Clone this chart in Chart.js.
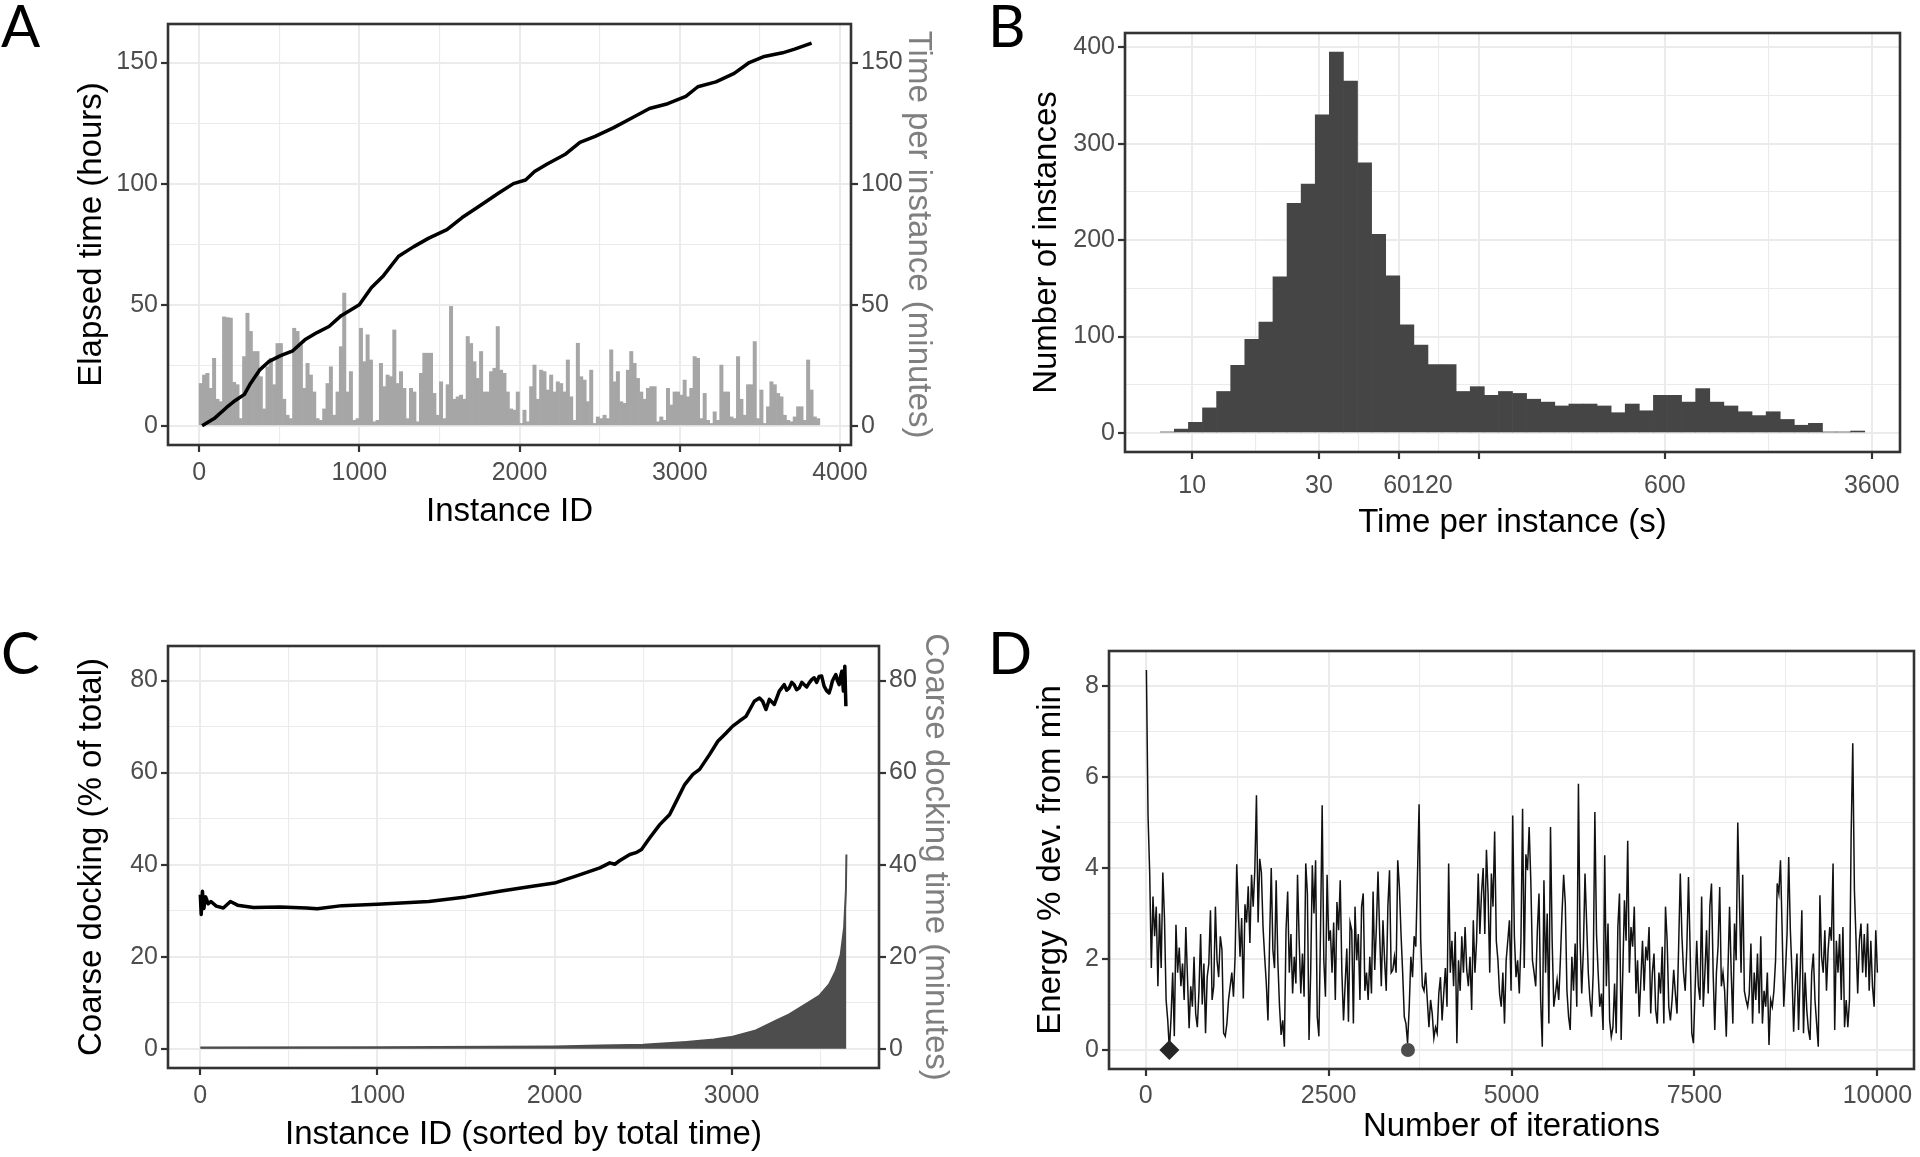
<!DOCTYPE html>
<html>
<head>
<meta charset="utf-8">
<script src="https://cdn.jsdelivr.net/npm/chart.js@4.4.1/dist/chart.umd.min.js"></script>
<style>
  html, body { margin: 0; padding: 0; background: #fff; overflow: hidden; }
  body { width: 1920px; height: 1157px; position: relative; }
  canvas { position: absolute; }
  .tag { position: absolute; font-family: Lato, 'Open Sans', sans-serif; font-size: 58px; line-height: 58px; color: #000; }
</style>
</head>
<body>
<div class="tag" style="left:1px;top:-4px">A</div>
<div class="tag" style="left:988px;top:-4px">B</div>
<div class="tag" style="left:1px;top:623px">C</div>
<div class="tag" style="left:988px;top:623px">D</div>

<canvas id="grafA" width="868" height="528" style="left:70px;top:4px"></canvas>
<canvas id="grafB" width="889" height="530" style="left:1025px;top:13px"></canvas>
<canvas id="grafC" width="885" height="529" style="left:70px;top:626px"></canvas>
<canvas id="grafD" width="895" height="516" style="left:1029px;top:631px"></canvas>

<script>
// ---- A: elapsed time and time per instance
const instanceA = [19, 94, 170, 226, 283, 321, 377, 434, 509, 585, 660, 736, 811, 887, 1000, 1075, 1151, 1245, 1340, 1434,
  1547, 1642, 1755, 1868, 1962, 2038, 2094, 2170, 2283, 2377, 2472, 2585, 2698, 2811, 2925, 3038, 3113, 3226, 3340, 3434,
  3528, 3642, 3717, 3823];
const elapsedHours = [0, 3, 7.5, 10.5, 13, 17.5, 23, 26.5, 29, 31, 35.5, 38.5, 41, 45.5, 50, 57, 62, 70, 74, 77.5,
  81, 86, 91, 96, 100, 101.5, 105, 108, 112, 117, 119.5, 123, 127, 131, 133, 136, 140, 142, 145.5, 150,
  152.5, 154, 155.5, 158];
// one bar per block of instances, block centres start at firstBarId
const firstBarId = 10.4;
const barStepIds = 20.83;
const minutesPerInstance = [
  17.5, 21, 21.7, 15.5, 27.9, 11, 10, 45, 44.7, 44.5, 18, 17, 3, 28.6, 46.5, 39, 30.7, 30.7, 20.3, 7,
  24.4, 27.9, 17, 34, 34, 11, 4.4, 3, 40.3, 39, 33.4, 15.5, 25.8, 21, 14, 3, 2.3, 7, 17.5, 24.4,
  4.4, 14, 32.7, 54.8, 14, 22.4, 2.3, 3, 40.3, 26.5, 37.6, 27.2, 1.7, 2.3, 25.8, 16.2, 21, 20.3, 39.6, 17.5,
  22.4, 15.5, 3, 15.5, 14, 1.7, 21.7, 30, 30, 30, 13.4, 4.4, 18.2, 3, 17, 49.3, 11, 12, 12.7, 11,
  36.9, 34, 26.5, 19.6, 30.7, 14, 14, 22.4, 23.8, 41, 23, 21.7, 14,
  7, 6.5, 14, 1, 6.5, 1.7, 16.2, 25.1, 11, 23, 22.4, 14.8, 21, 14, 18.2, 17.5, 14, 27.2, 12, 2.3,
  34.1, 20.3, 18.9, 10, 23, 1, 3.7, 3, 4.4, 3, 31.4, 18.2, 22.4, 10, 9.3, 23, 30.7, 25.8, 19.6, 14,
  11, 15.5, 16.2, 16.2, 1.7, 3.7, 2.3, 15.5, 8.6, 14, 14, 12.7, 18.9, 12, 15.5, 28.6, 27.9, 3, 13.4, 2.3,
  1, 5.8, 2.3, 25.1, 14, 14, 3.7, 3, 28.6, 11, 4.4, 17, 17, 34.8, 3, 14.8, 1, 7.9, 18.2, 17,
  13.4, 12, 4.4, 2.3, 1.7, 3.7, 7.9, 7.9, 2.3, 27.2, 14.8, 3.7, 3];
const xMajorA = [0, 1000, 2000, 3000, 4000];
const xMinorA = [500, 1500, 2500, 3500];
const yMajorA = [0, 50, 100, 150];
const yMinorA = [25, 75, 125];

// ---- B: histogram of time per instance (log10 bins)
const binStartLog = 0.88;
const binWidthLog = 0.053;
const instanceCounts = [1, 4, 11, 26, 43, 70, 97, 115, 162, 238, 258, 330, 395, 365, 280, 206, 163, 112, 91, 71,
  71, 43, 48, 39, 43, 41, 35, 32, 28, 30, 30, 28, 21, 30, 23, 39, 39, 32, 46, 32,
  28, 22, 18, 22, 14, 8, 10, 1, 1, 2];
const xMajorB = [10, 30, 60, 120, 600, 3600];
const xMinorB = [17.32, 42.43, 84.85, 268.3, 1469.7];
const xLabelledB = [10, 30, 600, 3600];
const joinedLabelB = {at: 70.7, text: '60120'};
const yMajorB = [0, 100, 200, 300, 400];
const yMinorB = [50, 150, 250, 350];

// ---- C: coarse docking share and time
const instanceC = [0, 5, 12, 20, 30, 45, 60, 90, 130, 170, 210, 300, 450, 600, 660, 800, 1000, 1290, 1500, 1700,
  1875, 2000, 2120, 2256, 2312, 2340, 2369, 2425, 2460, 2491, 2537, 2594, 2650, 2688, 2735, 2781, 2819, 2875, 2922, 2969,
  3006, 3044, 3081, 3128, 3157, 3175, 3194, 3213, 3241, 3269, 3297, 3311, 3325, 3339, 3353, 3367, 3382, 3396, 3410, 3424,
  3438, 3452, 3466, 3480, 3494, 3508, 3522, 3536, 3550, 3560, 3569, 3578, 3588, 3597, 3607, 3614, 3622, 3631, 3639, 3645];
const coarsePercent = [33.5, 29.2, 34.2, 30.5, 33, 31.5, 32, 31, 30.6, 32, 31.2, 30.7, 30.8, 30.6, 30.4, 31.1, 31.4, 32, 33, 34.3,
  35.3, 36, 37.5, 39.3, 40.4, 40.1, 40.9, 42.2, 42.6, 43.3, 45.8, 48.7, 50.9, 53.8, 57.4, 59.6, 60.7, 63.9, 66.8, 68.6,
  70.1, 71.2, 72.2, 75.5, 76.2, 75.5, 73.7, 75.9, 74.8, 77.7, 79.1, 77.9, 78.4, 79.6, 79.1, 78.0, 78.4, 79.6, 79.1, 78.6,
  79.5, 80.2, 80.6, 79.6, 80.9, 81.0, 78.8, 77.8, 77.3, 78.5, 79.9, 80.6, 81.3, 80.0, 79.1, 80.8, 82.0, 77.7, 83.1, 74.4];
const instanceAreaC = [0, 1000, 2000, 2256, 2500, 2744, 2900, 3006, 3137, 3250, 3325, 3419, 3494, 3550, 3588, 3616, 3635, 3645, 3648];
const coarseMinutes = [0.3, 0.35, 0.5, 0.7, 0.9, 1.5, 2.0, 2.6, 4.0, 6.1, 7.5, 9.7, 11.5, 14.0, 16.9, 20.5, 26.3, 34.2, 42.2];
const xMajorC = [0, 1000, 2000, 3000];
const xMinorC = [500, 1500, 2500, 3500];
const yMajorC = [0, 20, 40, 60, 80];
const yMinorC = [10, 30, 50, 70];

// ---- D: energy deviation along the run (samples evenly spread from iterFirst to iterLast)
const iterFirst = 11;
const iterLast = 10000;
const energyDev = [
  8.35, 5.15, 3.9, 1.8, 3.37, 2.5, 3.15, 1.4, 3.0, 1.8, 3.9, 2.9, 1.1, 0.65, 0,
  0.7, 1.7, 0.3, 2.75, 1.7, 2.25, 1.4, 1.9, 1.1, 2.7, 1.6, 0.48, 1.4, 0.95, 2.05, 0.8, 0.5, 1.3, 2.55, 1.0,
  1.9, 0.37, 1.6, 1.9, 3.07, 1.1, 1.4, 3.15, 1.97, 1.6, 2.5, 2.2, 0.37, 0.3, 0.58, 1.1, 1.4, 1.7, 1.17, 2.05,
  4.08, 3.0, 2.05, 2.9, 1.13, 3.2, 2.8, 3.6, 2.35, 3.85, 3.15, 3.95, 5.6, 2.8, 4.2, 3.9, 2.7, 2.05, 1.46, 0.65,
  2.4, 4.0, 2.2, 1.8, 3.73, 1.97, 0.99, 0.33, 0.65, 0.07, 2.63, 3.48, 1.7, 2.55, 1.24, 2.05, 1.46, 3.85, 2.4, 1.24,
  2.12, 1.17, 4.1, 3.44, 0.22, 1.7, 4.06, 3.0, 4.17, 0.73, 0.3, 2.63, 5.38, 1.97, 1.17, 3.85, 2.4, 2.63, 1.7, 2.8,
  1.1, 3.25, 2.63, 3.73, 1.7, 0.65, 1.46, 2.23, 0.62, 2.8, 2.63, 0.58, 3.15, 1.97, 2.55, 1.1, 3.15, 3.44, 1.3, 1.7,
  1.1, 2.05, 1.24, 3.48, 1.76, 2.7, 3.92, 2.55, 1.4, 2.85, 1.97, 1.3, 3.15, 3.95, 1.7, 1.76, 2.05, 1.7, 4.17, 3.58,
  2.55, 1.7, 0.73, 0.58, 0.15,
  0.95, 2.05, 1.6, 2.5, 2.27, 3.8, 5.4, 2.4, 1.4, 1.3, 1.7, 1.1, 0.5, 1.1, 0.8, 0.26, 0.5, 0.37, 1.24, 1.6,
  0.65, 1.24, 1.8, 0.95, 4.1, 1.7, 2.4, 1.4, 2.6, 0.15, 1.97, 1.3, 2.5, 1.7, 2.7, 1.76, 1.4, 2.05, 0.88, 2.85,
  1.7, 2.4, 3.88, 2.55, 3.44, 4.0, 2.55, 4.4, 3.44, 1.7, 3.88, 3.15, 4.8, 2.4, 1.97, 1.24, 0.95, 1.7, 0.58, 1.97,
  2.4, 2.85, 1.3, 5.15, 2.5, 1.6, 1.97, 1.24, 2.4, 5.3,
  1.8, 4.3, 3.95, 4.9, 3.73, 1.97, 1.7, 1.4, 2.63, 3.44, 1.1,
  0.07, 3.73, 1.7, 3.0, 0.58, 4.9, 2.4, 0.95, 1.24, 1.54, 1.1, 1.97, 3.0, 3.85, 3.22, 1.3, 0.73, 0.44, 2.05, 1.3, 2.34, 0.95,
  5.85, 2.4, 1.24, 2.2, 3.88, 2.78, 1.7, 1.1, 0.73, 1.7, 5.23, 2.55, 1.7, 0.95, 1.24, 0.44, 4.28, 1.4, 2.78, 0.65,
  0.29, 0.5, 1.46, 0.37, 2.7, 3.44, 0.22, 1.7, 3.29, 2.4, 4.6, 1.7, 2.7, 2.27, 3.15, 1.24, 1.97, 0.73, 1.54, 2.4,
  1.3, 2.27, 1.97, 2.7, 0.8, 1.7, 2.12, 0.88, 0.58, 1.7, 1.24, 2.27, 0.58, 3.15, 2.4, 0.95, 0.65, 1.1, 1.76, 1.24,
  0.8, 2.27, 3.88, 2.5, 1.7, 1.3, 2.27, 3.8, 2.2, 0.37, 0.15, 1.3, 2.4, 1.4, 1.1, 3.37, 0.95, 1.7, 2.63, 1.24,
  3.15, 3.66, 1.7, 0.44, 1.7, 2.27, 3.58, 1.4, 1.7, 1.3, 0.29, 1.7, 3.15, 1.7, 0.58, 2.78, 1.97, 5.0, 3.29, 1.7,
  3.85, 1.3, 1.1, 0.95, 1.24, 2.34, 0.58, 1.7, 1.1, 2.12, 0.8, 2.5, 0.58, 1.3, 0.95, 1.7, 0.11, 1.1, 0.95, 1.3,
  1.97, 3.66, 3.44, 4.17, 2.63, 0.95, 1.7, 2.55, 4.24, 2.63, 1.7, 0.4, 1.4, 2.12, 0.44, 1.7, 3.07, 0.37, 1.7, 0.88,
  0.44, 0.22, 1.7, 2.12, 1.1, 0.58, 0.07, 3.4, 2.05, 1.7, 2.63, 1.3, 2.2, 2.7, 2.4, 4.1, 0.44, 2.4, 1.7, 2.55,
  1.1, 2.7, 0.5, 1.1, 0.5, 1.1, 4.7, 6.74, 3.51, 2.4, 1.24, 2.4, 2.78, 1.7, 2.55, 1.6, 2.78, 1.3, 2.4, 1.4,
  0.95, 2.63, 1.7];
const markerIter = [325, 3585];
const markerEnergy = [0, 0];
const xMajorD = [0, 2500, 5000, 7500, 10000];
const xMinorD = [1250, 3750, 6250, 8750];
const yMajorD = [0, 2, 4, 6, 8];
const yMinorD = [1, 3, 5, 7];

// ---- shared look (ggplot theme_bw)
const FONT = "'Liberation Sans', Arial, Helvetica, sans-serif";
const GRID = '#ebebeb';
const DARK = '#333333';
const TICK_TEXT = '#4d4d4d';
const CLEAR = 'rgba(0,0,0,0)';

Chart.defaults.font.family = FONT;

const frame = {
  id: 'frame',
  afterDraw(chart) {
    const a = chart.chartArea;
    const ctx = chart.ctx;
    ctx.save();
    ctx.strokeStyle = DARK;
    ctx.lineWidth = 2.6;
    ctx.strokeRect(a.left, a.top, a.right - a.left, a.bottom - a.top);
    ctx.restore();
  }
};
Chart.register(frame);

function axis(o) {
  const major = o.major;
  const extra = o.extra;
  const all = major.concat(o.minor || [], extra ? [extra.at] : []).sort((a, b) => a - b);
  const isMajor = c => c.tick && major.includes(c.tick.value);
  const labelled = o.labelled || major;
  return {
    type: o.type || 'linear',
    position: o.position,
    min: o.min,
    max: o.max,
    bounds: 'data',
    offset: false,
    afterBuildTicks: s => { s.ticks = all.map(v => ({value: v})); },
    afterFit: s => { if (s.isHorizontal()) s.height = o.size; else s.width = o.size; },
    border: {display: false},
    grid: {
      offset: false,
      drawOnChartArea: o.grid !== false,
      color: c => (extra && c.tick && c.tick.value === extra.at) ? CLEAR : GRID,
      lineWidth: c => isMajor(c) ? 2 : 1.1,
      tickLength: 7,
      tickWidth: 2.2,
      tickColor: c => isMajor(c) ? DARK : CLEAR
    },
    ticks: {
      autoSkip: false,
      maxRotation: 0,
      minRotation: 0,
      padding: o.tickPad,
      color: TICK_TEXT,
      font: {family: FONT, size: 25},
      callback: v => {
        if (extra && v === extra.at) return extra.text;
        return labelled.includes(v) ? String(v) : '';
      }
    },
    title: {
      display: true,
      text: o.title,
      color: o.titleColor || '#000000',
      font: {family: FONT, size: 33},
      padding: o.titlePad
    }
  };
}

function baseOptions(padding, scales) {
  return {
    responsive: false,
    animation: false,
    devicePixelRatio: 1,
    layout: {padding: padding},
    plugins: {legend: {display: false}, tooltip: {enabled: false}},
    scales: scales
  };
}

const DIV_GRAF_A = document.getElementById('grafA');
const DIV_GRAF_B = document.getElementById('grafB');
const DIV_GRAF_C = document.getElementById('grafC');
const DIV_GRAF_D = document.getElementById('grafD');

new Chart(DIV_GRAF_A, {
  type: 'bar',
  data: {
    datasets: [{
      type: 'line',
      data: instanceA.map((x, i) => ({x: x, y: elapsedHours[i]})),
      borderColor: '#000000',
      borderWidth: 3.5,
      borderJoinStyle: 'round',
      pointRadius: 0,
      order: 0
    }, {
      type: 'bar',
      data: minutesPerInstance.map((v, i) => ({x: firstBarId + i * barStepIds, y: v})),
      backgroundColor: '#a6a6a6',
      borderWidth: 0,
      barPercentage: 1,
      categoryPercentage: 1,
      order: 1
    }]
  },
  options: baseOptions({top: 20, right: 0, bottom: 0, left: 0}, {
    x: axis({position: 'bottom', min: -194, max: 4069, major: xMajorA, minor: xMinorA, size: 87, tickPad: 6,
      title: 'Instance ID', titlePad: {top: 0, bottom: 0}}),
    y: axis({position: 'left', min: -7.9, max: 165.9, major: yMajorA, minor: yMinorA, size: 98, tickPad: 3,
      title: 'Elapsed time (hours)', titlePad: {top: 2, bottom: 0}}),
    y2: axis({position: 'right', min: -7.9, max: 165.9, major: yMajorA, size: 87, tickPad: 3, grid: false,
      title: 'Time per instance (minutes)', titleColor: '#7f7f7f', titlePad: {top: 0, bottom: 0}})
  })
});

new Chart(DIV_GRAF_B, {
  type: 'bar',
  data: {
    datasets: [{
      data: instanceCounts.map((c, i) => ({x: Math.pow(10, binStartLog + (i + 0.5) * binWidthLog), y: c})),
      backgroundColor: '#454545',
      borderWidth: 0,
      barPercentage: 1,
      categoryPercentage: 1
    }]
  },
  options: baseOptions({top: 20, right: 14, bottom: 0, left: 0}, {
    x: axis({type: 'logarithmic', position: 'bottom', min: 5.59, max: 4598, major: xMajorB, minor: xMinorB,
      labelled: xLabelledB, extra: joinedLabelB, size: 91, tickPad: 12,
      title: 'Time per instance (s)', titlePad: {top: 0, bottom: 0}}),
    y: axis({position: 'left', min: -19.75, max: 414.75, major: yMajorB, minor: yMinorB, size: 100, tickPad: 3,
      title: 'Number of instances', titlePad: {top: 2, bottom: 0}})
  })
});

new Chart(DIV_GRAF_C, {
  type: 'line',
  data: {
    datasets: [{
      data: instanceC.map((x, i) => ({x: x, y: coarsePercent[i]})),
      borderColor: '#000000',
      borderWidth: 3.5,
      borderJoinStyle: 'round',
      pointRadius: 0,
      order: 0
    }, {
      data: instanceAreaC.map((x, i) => ({x: x, y: coarseMinutes[i]})),
      borderColor: '#4d4d4d',
      backgroundColor: '#4d4d4d',
      borderWidth: 2,
      fill: 'origin',
      pointRadius: 0,
      order: 1
    }]
  },
  options: baseOptions({top: 20, right: 0, bottom: 0, left: 0}, {
    x: axis({position: 'bottom', min: -182.5, max: 3832, major: xMajorC, minor: xMinorC, size: 87, tickPad: 6,
      title: 'Instance ID (sorted by total time)', titlePad: {top: 0, bottom: 0}}),
    y: axis({position: 'left', min: -4.17, max: 87.5, major: yMajorC, minor: yMinorC, size: 98, tickPad: 3,
      title: 'Coarse docking (% of total)', titlePad: {top: 2, bottom: 0}}),
    y2: axis({position: 'right', min: -4.17, max: 87.5, major: yMajorC, size: 76, tickPad: 3, grid: false,
      title: 'Coarse docking time (minutes)', titleColor: '#7f7f7f', titlePad: {top: 0, bottom: 0}})
  })
});

new Chart(DIV_GRAF_D, {
  type: 'line',
  data: {
    datasets: [{
      data: energyDev.map((v, i) => ({x: iterFirst + i * (iterLast - iterFirst) / (energyDev.length - 1), y: v})),
      borderColor: '#111111',
      borderWidth: 1.5,
      pointRadius: 0,
      order: 1
    }, {
      type: 'scatter',
      data: markerIter.map((x, i) => ({x: x, y: markerEnergy[i]})),
      pointStyle: ['rectRot', 'circle'],
      pointRadius: [10, 7],
      pointBackgroundColor: ['#262626', '#4d4d4d'],
      pointBorderWidth: 0,
      order: 0
    }]
  },
  options: baseOptions({top: 20, right: 6, bottom: 0, left: 0}, {
    x: axis({position: 'bottom', min: -500, max: 10500, major: xMajorD, minor: xMinorD, size: 78, tickPad: 5,
      title: 'Number of iterations', titlePad: {top: 0, bottom: 0}}),
    y: axis({position: 'left', min: -0.4175, max: 8.7675, major: yMajorD, minor: yMinorD, size: 80, tickPad: 3,
      title: 'Energy % dev. from min', titlePad: {top: 2, bottom: 0}})
  })
});
</script>
</body>
</html>
